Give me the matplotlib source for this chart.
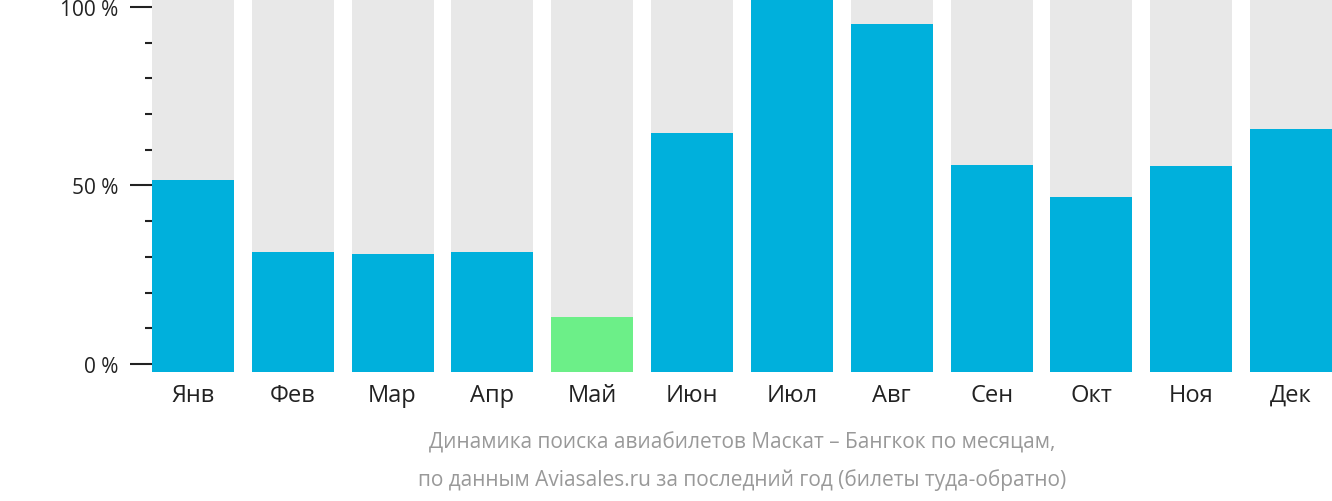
import matplotlib
matplotlib.use("Agg")
import matplotlib.pyplot as plt
from matplotlib.ticker import FixedLocator

months = ["Янв", "Фев", "Мар", "Апр", "Май", "Июн", "Июл", "Авг", "Сен", "Окт", "Ноя", "Дек"]
values = [51.5, 31.4, 30.8, 31.4, 13.2, 64.7, 103, 95.2, 55.7, 46.8, 55.5, 65.8]
highlight = 4

plt.rcParams["font.family"] = "Open Sans"
W, H = 1332, 502
fig = plt.figure(figsize=(W/100, H/100), dpi=100)
ax = fig.add_axes([152/W, 1-373/H, (1332-152)/W, 373/H])
ymin, ymax = -2.24, 102.24
x = range(len(months))
ax.bar(x, [ymax-ymin]*len(months), bottom=ymin, width=0.82, color="#e8e8e8")
cols = ["#6cef88" if i == highlight else "#00b0dc" for i in x]
ax.bar(x, [v-ymin for v in values], bottom=ymin, width=0.82, color=cols)
ax.set_ylim(ymin, ymax)
ax.set_xlim(-0.41, 11.41)
for s in ax.spines.values():
    s.set_visible(False)
ax.set_yticks([0, 50, 100])
ax.set_yticklabels(["0 %", "50 %", "100 %"])
ax.yaxis.set_minor_locator(FixedLocator([v for v in range(10, 100, 10) if v != 50]))
ax.tick_params(axis="y", which="major", length=16, width=1.5, color="#222", labelsize=15, labelcolor="#222", pad=8)
ax.tick_params(axis="y", which="minor", length=5, width=1.5, color="#222")
ax.yaxis.set_tick_params(which="both", direction="out")
ax.set_xticks(list(x))
ax.set_xticklabels(months)
ax.tick_params(axis="x", length=0, labelsize=17, labelcolor="#222", pad=8)
fig.text(742/W, 1-443/H, "Динамика поиска авиабилетов Маскат – Бангкок по месяцам,", ha="center", va="center", fontsize=15, color="#999")
fig.text(742/W, 1-480/H, "по данным Aviasales.ru за последний год (билеты туда-обратно)", ha="center", va="center", fontsize=15, color="#999")
fig.savefig("out.png", dpi=100)
